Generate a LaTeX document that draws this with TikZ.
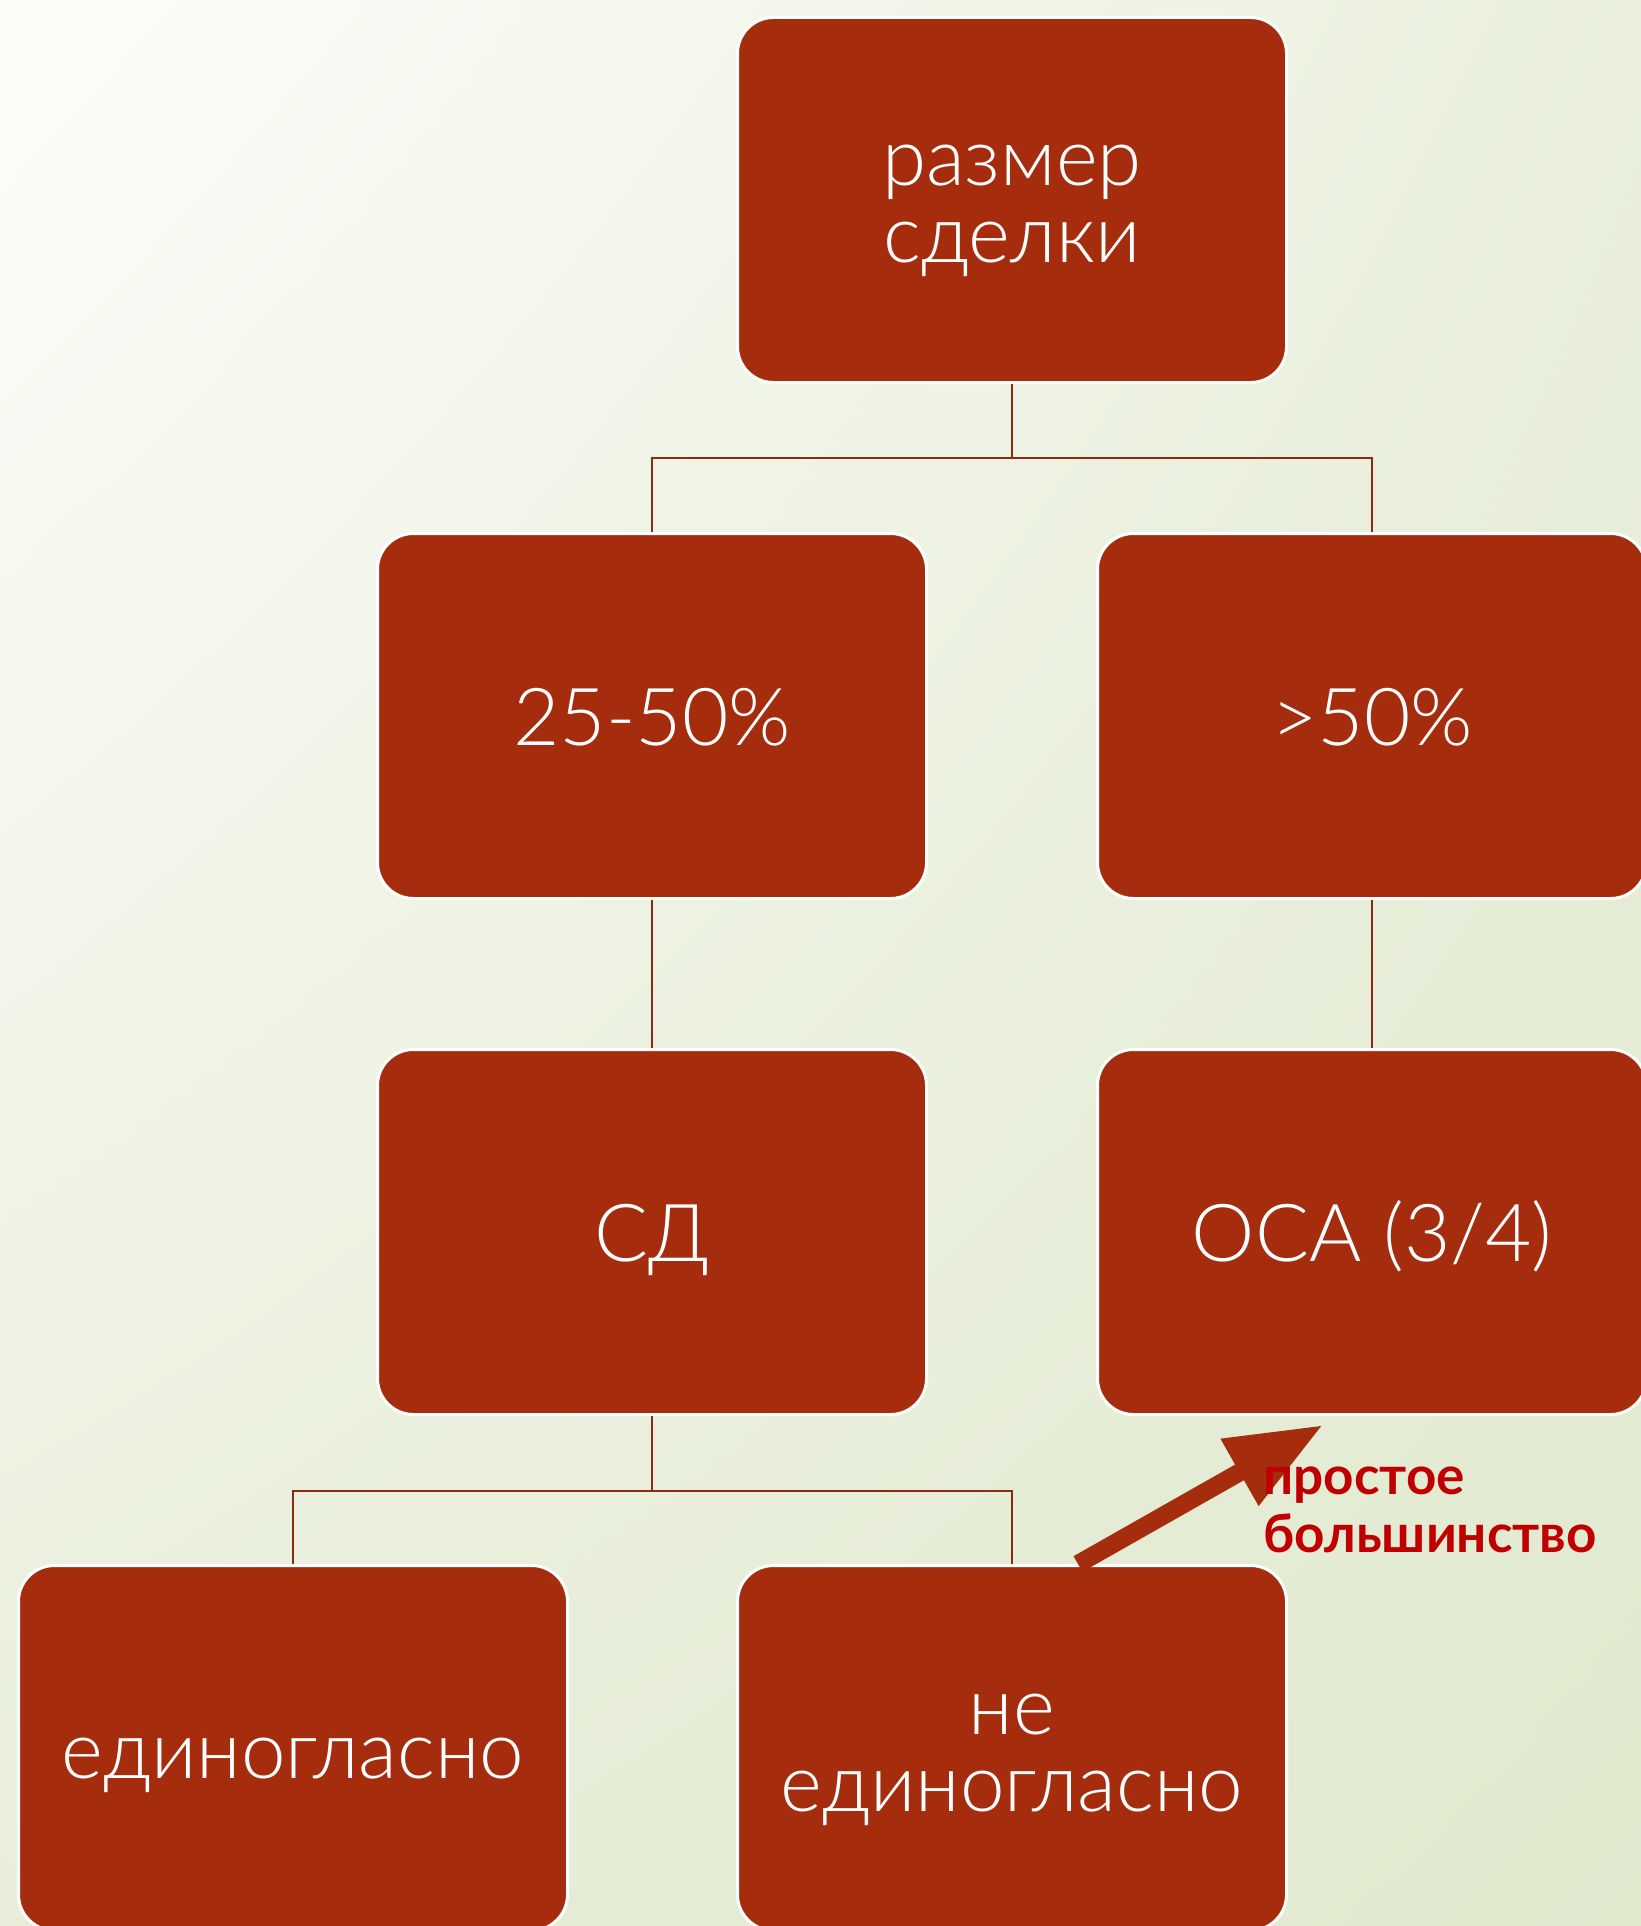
\documentclass[tikz,border=0pt]{standalone}
\usepackage{fontspec}
\setmainfont{Lato}[UprightFont=* Light, BoldFont=* Bold]
\usetikzlibrary{arrows.meta,shadings}
\definecolor{boxred}{RGB}{166,44,14}
\definecolor{linered}{RGB}{140,42,18}
\definecolor{lblred}{RGB}{192,0,0}
\definecolor{bgA}{RGB}{252,253,249}
\definecolor{bgB}{RGB}{233,239,220}
\definecolor{bgC}{RGB}{232,238,218}
\definecolor{bgD}{RGB}{224,233,206}
\begin{document}
\begin{tikzpicture}[x=0.5pt,y=-0.5pt,
  box/.style={draw=white, line width=1.5pt, fill=boxred, rounded corners=18pt,
    minimum width=274.5pt, minimum height=182.5pt, text=white, align=center,
    font=\fontsize{40}{38.5}\selectfont, inner sep=0pt},
  capline/.style={text height=29pt, text depth=0pt},
  lowline/.style={text height=30pt, text depth=0pt},
  twoline/.style={text height=63pt, text depth=0pt},
  conn/.style={draw=linered, line width=1.2pt},
  bigarrow/.style={draw=boxred, line width=9pt, -{Triangle[length=48pt,width=36pt]}},
  lbl/.style={text=lblred, font=\fontsize{26.5}{29}\selectfont\bfseries, align=left, inner sep=0pt}]
\useasboundingbox (0,0) rectangle (1641,1926);
\clip (0,0) rectangle (1641,1926);
\shade[upper left=bgA, upper right=bgB, lower left=bgC, lower right=bgD] (0,0) rectangle (1641,1926);
\coordinate (j1) at (1012,458);
\coordinate (j2) at (652,1491);
\node[box, twoline] (top) at (1012,200) {размер\\сделки};
\node[box, capline] (a) at (652,716) {25-50\%};
\node[box, capline] (b) at (1372,716) {>50\%};
\node[box, capline] (sd) at (652,1232) {СД};
\node[box, capline] (osa) at (1372,1232) {ОСА (3/4)};
\node[box, lowline] (un) at (293,1748) {единогласно};
\node[box, twoline] (ne) at (1012,1748) {не\\единогласно};
\draw[conn] (top.south) -- (j1) -| (a.north);
\draw[conn] (j1) -| (b.north);
\draw[conn] (a.south) -- (sd.north);
\draw[conn] (b.south) -- (osa.north);
\draw[conn] (sd.south) -- (j2) -| (un.north);
\draw[conn] (j2) -| (ne.north);
\coordinate (tip) at (1323,1425);
\draw[bigarrow] ([xshift=33pt]ne.north) -- (tip);
\node[lbl, anchor=west] (lab) at (1263,1510) {простое\\большинство};
\end{tikzpicture}
\end{document}
